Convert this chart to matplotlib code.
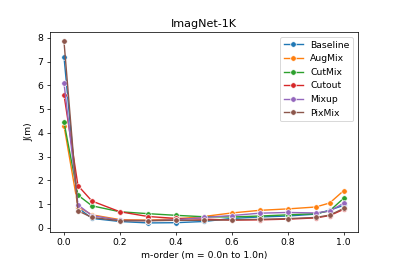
import matplotlib
matplotlib.use("Agg")
import matplotlib.pyplot as plt

m_order = [0.0, 0.05, 0.1, 0.2, 0.3, 0.4, 0.5, 0.6, 0.7, 0.8, 0.9, 0.95, 1.0]
methods = ["Baseline", "AugMix", "CutMix", "Cutout", "Mixup", "PixMix"]
baseline = [7.2, 0.85, 0.40, 0.27, 0.21, 0.22, 0.27, 0.40, 0.46, 0.50, 0.58, 0.75, 0.95]
augmix   = [4.3, 0.90, 0.55, 0.35, 0.33, 0.38, 0.48, 0.63, 0.74, 0.80, 0.88, 1.05, 1.57]
cutmix   = [4.45, 1.38, 0.93, 0.68, 0.60, 0.53, 0.47, 0.46, 0.50, 0.55, 0.60, 0.72, 1.25]
cutout   = [5.6, 1.78, 1.13, 0.68, 0.48, 0.40, 0.37, 0.33, 0.34, 0.37, 0.42, 0.52, 0.78]
mixup    = [6.1, 0.97, 0.52, 0.32, 0.31, 0.34, 0.44, 0.52, 0.62, 0.65, 0.63, 0.71, 1.04]
pixmix   = [7.85, 0.72, 0.44, 0.30, 0.30, 0.32, 0.32, 0.34, 0.36, 0.39, 0.44, 0.54, 0.82]
series = [baseline, augmix, cutmix, cutout, mixup, pixmix]
colors = ["#1f77b4", "#ff7f0e", "#2ca02c", "#d62728", "#9467bd", "#8c564b"]

DPI = 66.5
fig = plt.figure(figsize=(399 / DPI, 268 / DPI), dpi=DPI)
ax = fig.add_axes([50/399, (268-232)/268, 307.7/399, 199.7/268])
for name, vals, c in zip(methods, series, colors):
    ax.plot(m_order, vals, marker='o', color=c, label=name, lw=1.5,
            ms=6, mec='white', mew=0.75)
ax.set_title("ImagNet-1K")
ax.set_xlabel("m-order (m = 0.0n to 1.0n)")
ax.set_ylabel("J(m)")
ax.legend(loc="upper right")
fig.savefig("out.png", dpi=DPI)
